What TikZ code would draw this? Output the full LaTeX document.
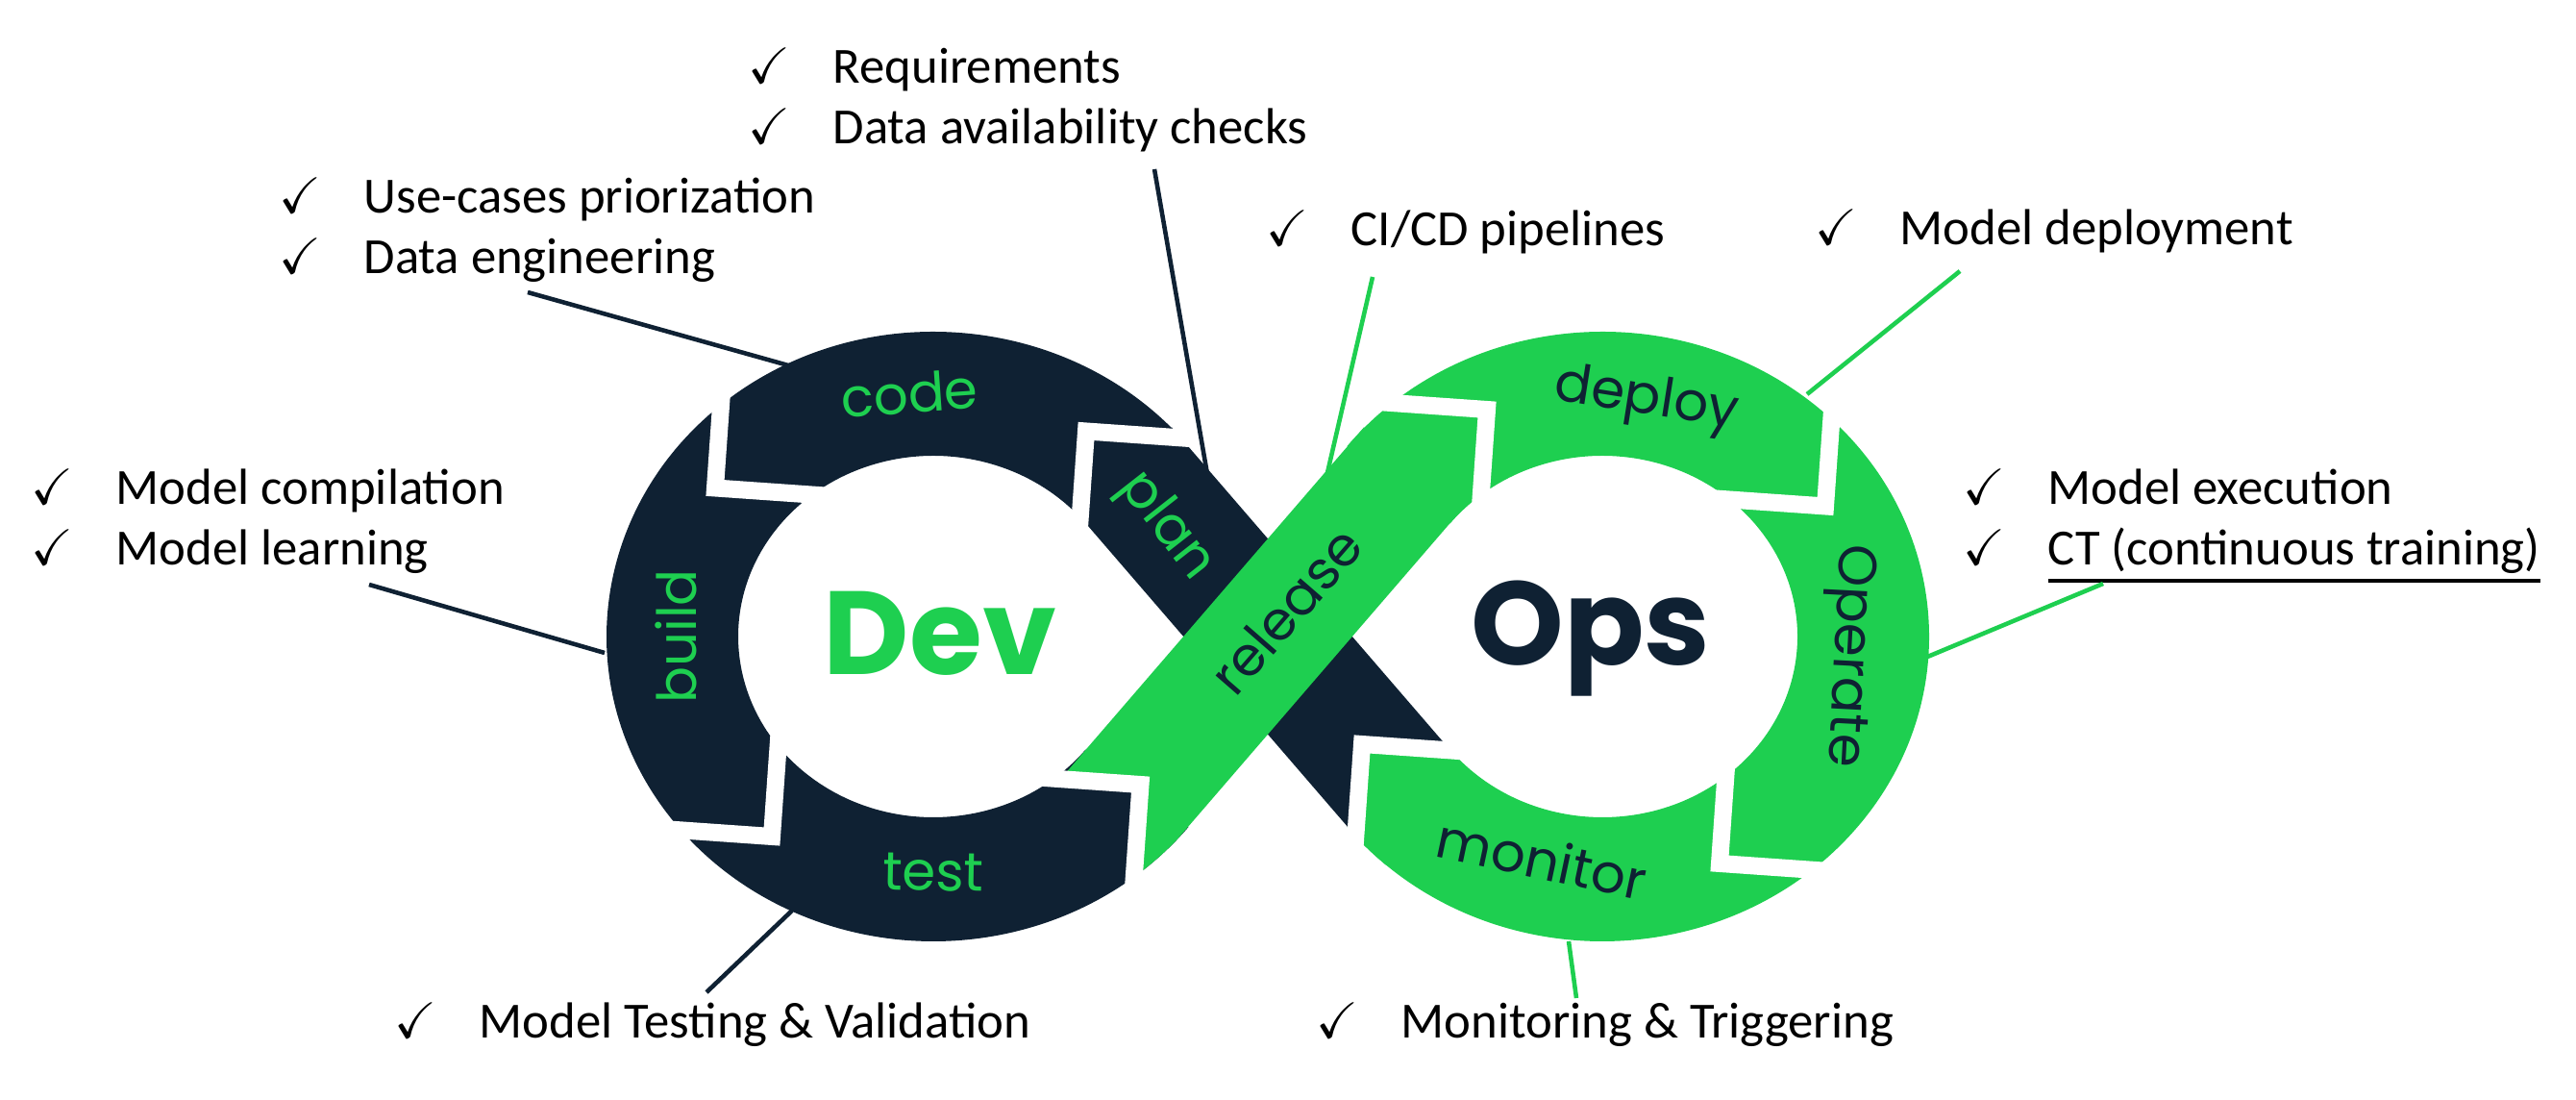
\documentclass[tikz,border=0pt]{standalone}
\usepackage{fontspec}
\usepackage{amssymb}
\setmainfont{Carlito}
\newfontfamily\logofont{Poppins}
\usetikzlibrary{calc}
\definecolor{devLacivert}{HTML}{0F2133}
\definecolor{opsYesil}{HTML}{1ECF50}
\newcommand{\chk}{\makebox[0.88cm][l]{$\checkmark$}}
\newcommand{\altiCizili}[1]{\setbox0=\hbox{#1}\rlap{\rule[-5.2pt]{\wd0}{1.1pt}}\box0}

\begin{document}
\begin{tikzpicture}[
  gapcut/.style={draw=white,line width=0.18cm,line join=miter},
  ringlbl/.style={font=\logofont\fontsize{16}{16}\selectfont,inner sep=0},
  biglbl/.style={font=\logofont\bfseries\fontsize{35}{35}\selectfont,inner sep=0},
  itemlist/.style={font=\fontsize{15}{18}\selectfont,align=left,anchor=west,inner sep=0},
  devlead/.style={devLacivert,line width=1.3pt},
  opslead/.style={opsYesil,line width=1.3pt}]
\useasboundingbox (0,0) rectangle (26.8,11.44);
\coordinate (dev) at (9.71,4.82);
\coordinate (ops) at (16.67,4.82);

\fill[devLacivert] ($(dev)+(38.7:3.4 and 3.17)$) arc[start angle=38.7,end angle=321.3,x radius=3.4,y radius=3.17]
  -- ($(dev)+(321.3:2.03 and 1.88)$) arc[start angle=321.3,end angle=38.7,x radius=2.03,y radius=1.88] -- cycle;
\fill[opsYesil] ($(ops)+(141.3:3.4 and 3.17)$) arc[start angle=141.3,end angle=-141.3,x radius=3.4,y radius=3.17]
  -- ($(ops)+(-141.3:2.03 and 1.88)$) arc[start angle=-141.3,end angle=141.3,x radius=2.03,y radius=1.88] -- cycle;
\begin{scope}
  \clip (ops) ellipse[x radius=3.4,y radius=3.17];
  \fill[opsYesil] (14.17,3.70) -- (15.09,3.636) -- (15.392,3.286) -- (14.386,2.417) -- (14.103,2.745) -- cycle;
\end{scope}
\fill[devLacivert] (12.19,6.996) -- (15.09,3.636) -- (14.17,3.70) -- (14.103,2.745) -- (11.184,6.127) -- cycle;
\begin{scope}
  \clip (12.364,11.44) -- ($(dev)+(38.7:3.4 and 3.17)$) arc[start angle=38.7,end angle=321.3,x radius=3.4,y radius=3.17]
    -- (12.364,0) -- (26.8,0) -- (26.8,11.44) -- cycle;
  \fill[opsYesil] (11.033,3.338) -- (14.19,6.996) -- (15.196,6.127) -- (11.788,2.178) -- (11.865,3.28) -- cycle;
\end{scope}

\coordinate (gA) at (11.30,6.955);
\coordinate (gB) at (7.44,6.365);
\coordinate (gC) at (8.03,2.74);
\coordinate (gD) at (11.865,3.28);
\coordinate (gE) at (15.47,7.18);
\coordinate (gF) at (18.99,6.175);
\coordinate (gG) at (17.89,2.46);
\coordinate (gH) at (14.17,3.70);
\foreach \g/\a/\b in {gA/-4/-94,gB/86/-4,gC/176/86,gD/176/-94,gE/176/-94,gF/86/176,gG/86/-4,gH/-4/-94}
  \draw[gapcut] (\g) ++(\a:1.3) -- (\g) -- ++(\b:1.3);

\node[ringlbl,text=opsYesil,rotate=4] (codelbl) at (9.46,7.35) {code};
\node[ringlbl,text=opsYesil,rotate=90] (buildlbl) at (7.03,4.82) {build};
\node[ringlbl,text=opsYesil,rotate=-1] (testlbl) at (9.71,2.37) {test};
\node[ringlbl,text=opsYesil,rotate=-52] (planlbl) at (12.13,5.96) {plan};
\node[ringlbl,text=devLacivert,rotate=49] (releaselbl) at (13.38,5.09) {release};
\node[ringlbl,text=devLacivert,rotate=-9] (deploylbl) at (17.13,7.27) {deploy};
\node[ringlbl,text=devLacivert,rotate=-93] (operatelbl) at (19.21,4.62) {Operate};
\node[ringlbl,text=devLacivert,rotate=-12] (monitorlbl) at (16.04,2.51) {monitor};
\node[biglbl,text=opsYesil] (devlbl) at (9.78,4.85) {Dev};
\node[biglbl,text=devLacivert] (opslbl) at (16.55,4.80) {Ops};

\node[itemlist] (req) at (7.78,10.40) {\chk Requirements\\\chk Data availability checks};
\node[itemlist] (usecase) at (2.90,9.05) {\chk Use-cases priorization\\\chk Data engineering};
\node[itemlist] (compile) at (0.32,6.02) {\chk Model compilation\\\chk Model learning};
\node[itemlist] (testval) at (4.10,0.78) {\chk Model Testing \& Validation};
\node[itemlist] (monit) at (13.69,0.78) {\chk Monitoring \& Triggering};
\node[itemlist] (cicd) at (13.17,9.03) {\chk CI/CD pipelines};
\node[itemlist] (deploytxt) at (18.88,9.04) {\chk Model deployment};
\node[itemlist] (exec) at (20.42,5.97) {\chk Model execution\\\chk \altiCizili{CT (continuous training)}};

\coordinate (uselead) at (5.49,8.40);
\coordinate (reqlead) at (12.01,9.68);
\coordinate (compilelead) at (3.84,5.36);
\coordinate (testlead) at (7.35,1.12);
\coordinate (cicdlead) at (14.28,8.56);
\coordinate (deploylead) at (20.39,8.62);
\coordinate (execlead) at (21.88,5.37);
\coordinate (monitlead) at (16.40,1.06);
\coordinate (codept) at (8.20,7.64);
\coordinate (planpt) at (12.56,6.51);
\coordinate (buildpt) at (6.29,4.65);
\coordinate (testpt) at (8.24,1.97);
\coordinate (releasept) at (13.80,6.48);
\coordinate (deploypt) at (18.80,7.34);
\coordinate (operatept) at (20.03,4.60);
\coordinate (monitorpt) at (16.32,1.65);
\draw[devlead] (uselead) -- (codept);
\draw[devlead] (reqlead) -- (planpt);
\draw[devlead] (compilelead) -- (buildpt);
\draw[devlead] (testlead) -- (testpt);
\draw[opslead] (cicdlead) -- (releasept);
\draw[opslead] (deploylead) -- (deploypt);
\draw[opslead] (execlead) -- (operatept);
\draw[opslead] (monitlead) -- (monitorpt);
\end{tikzpicture}
\end{document}
